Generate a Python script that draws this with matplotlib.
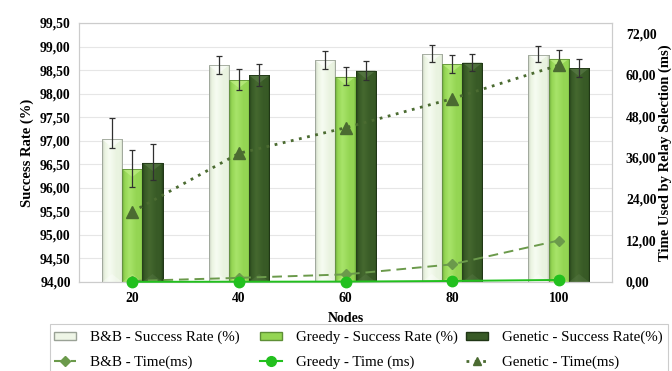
import numpy as np
import matplotlib
matplotlib.use("Agg")
import matplotlib.pyplot as plt
from matplotlib.colors import LinearSegmentedColormap
from matplotlib.patches import Polygon, Patch, Rectangle
from matplotlib.lines import Line2D
from matplotlib.ticker import FuncFormatter, FixedLocator

plt.rcParams['font.family'] = ['Liberation Serif', 'DejaVu Serif']

nodes = ['20', '40', '60', '80', '100']

# success rate (%) per algorithm
bb_rate = [97.03, 98.60, 98.71, 98.85, 98.83]
greedy_rate = [96.40, 98.29, 98.36, 98.63, 98.74]
genetic_rate = [96.53, 98.39, 98.49, 98.66, 98.54]

# error bars (below, above)
bb_err = ([0.18, 0.19, 0.19, 0.17, 0.15], [0.45, 0.20, 0.19, 0.18, 0.18])
greedy_err = ([0.39, 0.21, 0.18, 0.19, 0.19], [0.41, 0.23, 0.20, 0.19, 0.19])
genetic_err = ([0.37, 0.22, 0.20, 0.17, 0.19], [0.40, 0.23, 0.20, 0.19, 0.19])

# time used by relay selection (ms)
bb_time = [0.3, 1.2, 2.2, 5.1, 12.0]
greedy_time = [0.05, 0.08, 0.12, 0.3, 0.6]
genetic_time = [20.3, 37.2, 44.6, 53.0, 62.7]

fig = plt.figure(figsize=(6.72, 3.71), dpi=100)
ax = fig.add_axes([79/672, 1 - 282/371, (612-79)/672, (282-23)/371])
ax2 = ax.twinx()

x = np.arange(len(nodes))
w = 0.19
ymin, ymax = 94.0, 99.5

bar_styles = [
    # edge, mid, highlight, cap, outline
    ('#c3c9bd', '#e9f3e0', '#f7fcf2', '#ffffff', '#9aa296'),
    ('#6aa83a', '#94d553', '#a8e46a', '#c6f38e', '#5e8f36'),
    ('#24401a', '#385a26', '#45692f', '#5c7d4b', '#1f3515'),
]
series = [(bb_rate, bb_err), (greedy_rate, greedy_err), (genetic_rate, genetic_err)]

grad = np.linspace(0, 1, 64).reshape(1, -1)
cap_h = 8 / 259 * (ymax - ymin)

for i, ((vals, err), (edge, mid, hi, cap, line)) in enumerate(zip(series, bar_styles)):
    cmap = LinearSegmentedColormap.from_list(
        'bev%d' % i, [(0, edge), (0.12, mid), (0.35, hi), (0.7, mid), (0.92, mid), (1, edge)])
    pos = x + (i - 1) * w
    bars = ax.bar(pos, np.array(vals) - ymin, w, bottom=ymin, color=mid,
                  edgecolor=line, linewidth=0.6, zorder=2)
    for b, v in zip(bars, vals):
        x0 = b.get_x()
        x1 = x0 + b.get_width()
        im = ax.imshow(grad, extent=[x0, x1, ymin, v], aspect='auto', cmap=cmap,
                       zorder=2.1, interpolation='bicubic')
        im.set_clip_path(b)
        # bevelled top and bottom
        ax.add_patch(Polygon([(x0, v), (x1, v), ((x0 + x1) / 2, v - cap_h)],
                             closed=True, facecolor=cap, edgecolor='none',
                             alpha=0.6, zorder=2.2))
        ax.add_patch(Polygon([(x0, ymin), (x1, ymin), ((x0 + x1) / 2, ymin + cap_h)],
                             closed=True, facecolor=cap, edgecolor='none',
                             alpha=0.35, zorder=2.2))
        ax.add_patch(Rectangle((x0, ymin), x1 - x0, v - ymin, fill=False,
                               edgecolor=line, linewidth=0.6, zorder=2.3))
    ax.errorbar(pos, vals, yerr=err, fmt='none', ecolor='#303030', elinewidth=0.9,
                capsize=2.5, capthick=0.9, zorder=3)

ax.set_xlim(-0.5, len(nodes) - 0.5)
ax.set_ylim(ymin, ymax)
ax.set_yticks(np.arange(94.0, 99.51, 0.5))
ax.yaxis.set_major_formatter(FuncFormatter(lambda v, p: ('%.2f' % v).replace('.', ',')))
ax.set_xticks(x)
ax.set_xticklabels(nodes)
ax.grid(axis='y', color='#e6e6e6', linewidth=0.8, zorder=0)
ax.set_axisbelow(True)

# time series on the secondary axis
ax2.plot(x, bb_time, color='#6b9a4b', linestyle=(0, (5, 3)), linewidth=1.4,
         marker='D', markersize=5, clip_on=False, zorder=4)
ax2.plot(x, greedy_time, color='#22c01e', linestyle='-', linewidth=1.4,
         marker='o', markersize=7.5, clip_on=False, zorder=4)
ax2.plot(x, genetic_time, color='#4b6b31', linestyle=(0, (1, 2)), linewidth=2.0,
         marker='^', markersize=8, clip_on=False, zorder=4)
ax2.set_ylim(0, 74.9)
ax2.yaxis.set_major_locator(FixedLocator(np.arange(0, 72.1, 12)))
ax2.yaxis.set_major_formatter(FuncFormatter(lambda v, p: ('%.2f' % v).replace('.', ',')))

for a in (ax, ax2):
    for s in a.spines.values():
        s.set_color('#cccccc')
        s.set_linewidth(0.8)
    a.tick_params(length=0, labelsize=9.8)
    for lab in a.get_yticklabels() + a.get_xticklabels():
        lab.set_fontweight('bold')
ax.tick_params(axis='y', pad=6)
ax.tick_params(axis='x', pad=7)
ax2.tick_params(axis='y', pad=10)

ax.set_xlabel('Nodes', fontsize=10, fontweight='bold', labelpad=5)
ax.set_ylabel('Success Rate (%)', fontsize=10.5, fontweight='bold', labelpad=4)
ax2.set_ylabel('Time Used by Relay Selection (ms)', fontsize=10.5, fontweight='bold')
ax2.yaxis.set_label_coords(1.087, 0.5)

# legend: three columns inside one frame
fig.add_artist(Rectangle((50/672, -0.05), (668-50)/672, 0.05 + (371-324)/371,
                         transform=fig.transFigure, facecolor='white',
                         edgecolor='#cccccc', linewidth=0.8))
columns = [
    (58, [Patch(facecolor='#eef5e6', edgecolor='#9aa296'),
          Line2D([], [], color='#6b9a4b', linestyle=(0, (5, 3)), marker='D', markersize=5)],
     ['B&B - Success Rate (%)', 'B&B - Time(ms)']),
    (264, [Patch(facecolor='#94d553', edgecolor='#5e8f36'),
           Line2D([], [], color='#22c01e', marker='o', markersize=7)],
     ['Greedy - Success Rate (%)', 'Greedy - Time (ms)']),
    (470, [Patch(facecolor='#385a26', edgecolor='#1f3515'),
           Line2D([], [], color='#4b6b31', linestyle=(0, (1, 2)), linewidth=2, marker='^', markersize=6)],
     ['Genetic - Success Rate(%)', 'Genetic - Time(ms)']),
]
for xl, hs, ls in columns:
    fig.legend(hs, ls, loc='upper left', bbox_to_anchor=(xl/672 - 0.006, 1 - 331/371),
               fontsize=10.8, frameon=False, handlelength=1.5, handleheight=0.5,
               handletextpad=0.9, borderaxespad=0, borderpad=0, labelspacing=0.75)

fig.savefig('out.png', dpi=100)
